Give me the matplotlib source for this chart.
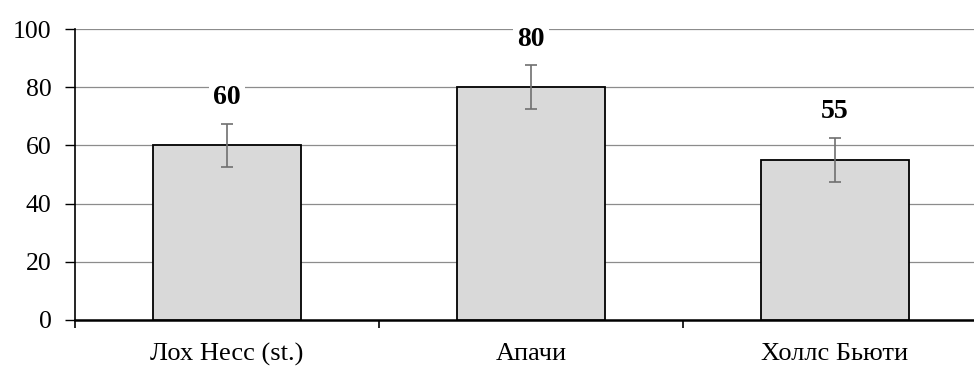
import matplotlib
matplotlib.use("Agg")
import matplotlib.pyplot as plt
import numpy as np

categories = ["Лох Несс (st.)", "Апачи", "Холлс Бьюти"]
values = [60, 80, 55]
errors = [7.5, 7.5, 7.5]
yticks = [0, 20, 40, 60, 80, 100]

plt.rcParams['font.family'] = ['Liberation Serif', 'DejaVu Serif']

fig = plt.figure(figsize=(9.74, 3.67), dpi=100)
ax = fig.add_axes([75/974, 47/367, 912/974, 291/367])

x = np.arange(len(categories))
ax.bar(x, values, width=0.49, color="#d9d9d9", edgecolor="black", linewidth=1.3, zorder=3)
ax.errorbar(x, values, yerr=errors, fmt="none", ecolor="#707070", elinewidth=1.2,
            capsize=4.5, capthick=1.2, zorder=4)
for xi, v, e in zip(x, values, errors):
    ax.text(xi, v + e + 9, str(v), ha="center", va="center", fontsize=20, fontweight="bold",
            bbox=dict(facecolor="white", edgecolor="none", pad=3), zorder=5)

ax.set_ylim(0, 100)
ax.set_xlim(-0.5, 2.5)
ax.set_yticks(yticks)
ax.set_yticklabels([str(t) for t in yticks], fontsize=18.5)
ax.yaxis.grid(True, color="#8c8c8c", linewidth=0.9, zorder=0)
ax.set_axisbelow(True)

ax.set_xticks([-0.5, 0.5, 1.5, 2.5])
ax.set_xticklabels([])
ax.set_xticks(x, minor=True)
ax.set_xticklabels(categories, minor=True, fontsize=19)
ax.tick_params(axis="x", which="minor", length=0, pad=16.5)
ax.tick_params(axis="x", which="major", length=6, width=1.2, direction="out")
ax.tick_params(axis="y", length=7, width=1, direction="out", pad=10)

for s in ["top", "right"]:
    ax.spines[s].set_visible(False)
ax.spines["left"].set_linewidth(1.2)
ax.spines["bottom"].set_linewidth(1.8)

fig.savefig("out.png", dpi=100)
